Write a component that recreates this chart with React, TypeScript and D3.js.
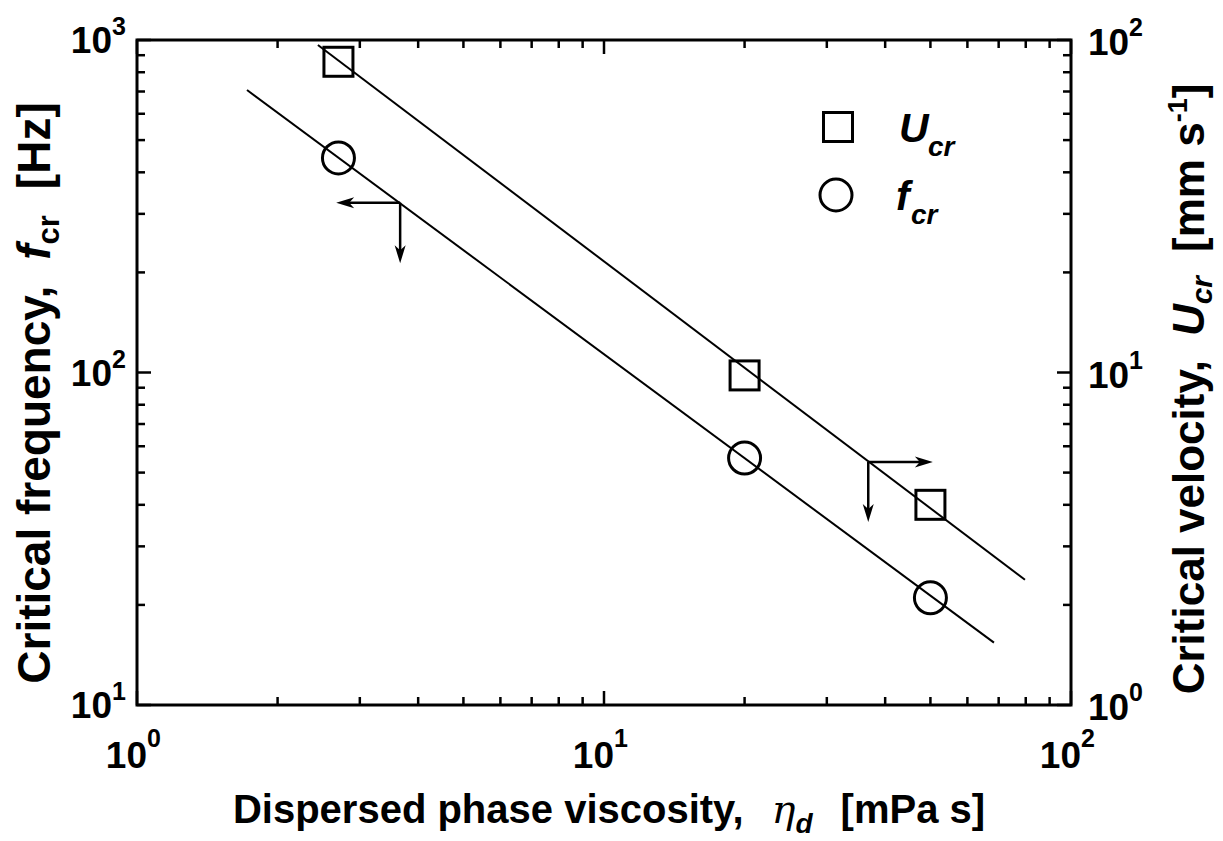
import React from "react";
import * as d3 from "d3";

// Dispersed phase viscosity [mPa s]
const viscosity = [2.7, 20, 50];
// Critical frequency f_cr [Hz] (left axis)
const freqCr = [442, 55.3, 21.0];
// Critical velocity U_cr [mm/s] (right axis)
const velCr = [86, 9.8, 4.0];

// Power-law fit lines, given by their end points (x, y)
const fitVelEnds = [
  [2.44, 96.6],
  [79.7, 2.38],
];
const fitFreqEnds = [
  [1.72, 707],
  [68.4, 15.4],
];

// Arrow annotations pointing each series to its axis: corner, horizontal tip, vertical tip
const freqArrow = { corner: [3.66, 324], hTip: 2.67, vTip: 213 };
const velArrow = { corner: [36.8, 5.38], hTip: 50.6, vTip: 3.55 };

const xDecades = [1, 10, 100];
const yLeftDecades = [10, 100, 1000];
const yRightDecades = [1, 10, 100];

const W = 1223;
const H = 841;
const L = 137, R = 1071, T = 40, B = 705;

const FONT = "'Liberation Sans', Arial, Helvetica, sans-serif";

function minorTicks(domain: [number, number]) {
  const out: number[] = [];
  for (let d = domain[0]; d < domain[1]; d *= 10) {
    for (let k = 2; k <= 9; k++) out.push(d * k);
  }
  return out;
}

function Arrow({ x1, y1, x2, y2 }: { x1: number; y1: number; x2: number; y2: number }) {
  const len = Math.hypot(x2 - x1, y2 - y1);
  const ux = (x2 - x1) / len, uy = (y2 - y1) / len;
  const hl = 18, hw = 5.5;
  const bx = x2 - ux * hl, by = y2 - uy * hl;
  const px = -uy, py = ux;
  const head = `M${x2},${y2} L${bx + px * hw},${by + py * hw} L${bx + ux * 5},${by + uy * 5} L${bx - px * hw},${by - py * hw} Z`;
  return (
    <g>
      <line x1={x1} y1={y1} x2={bx + ux * 6} y2={by + uy * 6} stroke="#000" strokeWidth={2.5} />
      <path d={head} fill="#000" />
    </g>
  );
}

export default function App() {
  const x = d3.scaleLog().domain([1, 100]).range([L, R]);
  const yL = d3.scaleLog().domain([10, 1000]).range([B, T]);
  const yR = d3.scaleLog().domain([1, 100]).range([B, T]);

  const line = d3.line<number[]>();
  const velFit = line(fitVelEnds.map((p) => [x(p[0]), yR(p[1])]));
  const freqFit = line(fitFreqEnds.map((p) => [x(p[0]), yL(p[1])]));

  const majorLen = 14, minorLen = 8;
  const xMinor = minorTicks([1, 100]);
  const yLMinor = minorTicks([10, 1000]);
  const yRMinor = minorTicks([1, 100]);

  const fa = freqArrow, va = velArrow;

  return (
    <svg width={W} height={H} style={{ display: "block", position: "absolute", left: 0, top: 0 }} fontFamily={FONT}>
      <rect width={W} height={H} fill="#fff" />

      {/* ticks: inward on all four sides */}
      <g stroke="#000" strokeWidth={2.5}>
        {xDecades.map((v) => (
          <g key={"xm" + v}>
            <line x1={x(v)} x2={x(v)} y1={B} y2={B - majorLen} />
            <line x1={x(v)} x2={x(v)} y1={T} y2={T + majorLen} />
          </g>
        ))}
        {xMinor.map((v) => (
          <g key={"xn" + v}>
            <line x1={x(v)} x2={x(v)} y1={B} y2={B - minorLen} />
            <line x1={x(v)} x2={x(v)} y1={T} y2={T + minorLen} />
          </g>
        ))}
        {yLeftDecades.map((v) => (
          <line key={"ylm" + v} x1={L} x2={L + majorLen} y1={yL(v)} y2={yL(v)} />
        ))}
        {yLMinor.map((v) => (
          <line key={"yln" + v} x1={L} x2={L + minorLen} y1={yL(v)} y2={yL(v)} />
        ))}
        {yRightDecades.map((v) => (
          <line key={"yrm" + v} x1={R} x2={R - majorLen} y1={yR(v)} y2={yR(v)} />
        ))}
        {yRMinor.map((v) => (
          <line key={"yrn" + v} x1={R} x2={R - minorLen} y1={yR(v)} y2={yR(v)} />
        ))}
      </g>
      <rect x={L} y={T} width={R - L} height={B - T} fill="none" stroke="#000" strokeWidth={3} />

      {/* tick labels */}
      <g fontWeight="bold" fill="#000">
        {xDecades.map((v) => (
          <g key={"xl" + v}>
            <text x={x(v) + 10} y={B + 63} fontSize={37} textAnchor="end">10</text>
            <text x={x(v) + 10} y={B + 42} fontSize={25}>{Math.round(Math.log10(v))}</text>
          </g>
        ))}
        {yLeftDecades.map((v) => (
          <g key={"yll" + v}>
            <text x={L - 25} y={yL(v) + 13} fontSize={37} textAnchor="end">10</text>
            <text x={L - 25} y={yL(v) - 5} fontSize={25}>{Math.round(Math.log10(v))}</text>
          </g>
        ))}
        {yRightDecades.map((v) => (
          <g key={"yrl" + v}>
            <text x={R + 17} y={yR(v) + 15} fontSize={37}>10</text>
            <text x={R + 58} y={yR(v) - 4} fontSize={25}>{Math.round(Math.log10(v))}</text>
          </g>
        ))}
      </g>

      {/* fit lines */}
      <path d={velFit ?? ""} fill="none" stroke="#000" strokeWidth={2} />
      <path d={freqFit ?? ""} fill="none" stroke="#000" strokeWidth={2} />

      {/* data markers */}
      {viscosity.map((v, i) => (
        <rect key={"sq" + i} x={x(v) - 14.5} y={yR(velCr[i]) - 14.5} width={29} height={29} fill="none" stroke="#000" strokeWidth={3} />
      ))}
      {viscosity.map((v, i) => (
        <circle key={"ci" + i} cx={x(v)} cy={yL(freqCr[i])} r={16} fill="none" stroke="#000" strokeWidth={3} />
      ))}

      {/* axis arrows */}
      <Arrow x1={x(fa.corner[0])} y1={yL(fa.corner[1])} x2={x(fa.hTip)} y2={yL(fa.corner[1])} />
      <Arrow x1={x(fa.corner[0])} y1={yL(fa.corner[1])} x2={x(fa.corner[0])} y2={yL(fa.vTip)} />
      <Arrow x1={x(va.corner[0])} y1={yR(va.corner[1])} x2={x(va.hTip)} y2={yR(va.corner[1])} />
      <Arrow x1={x(va.corner[0])} y1={yR(va.corner[1])} x2={x(va.corner[0])} y2={yR(va.vTip)} />

      {/* legend */}
      <rect x={823.5} y={112.5} width={29} height={29} fill="none" stroke="#000" strokeWidth={3} />
      <circle cx={836} cy={195} r={16} fill="none" stroke="#000" strokeWidth={3} />
      <text x={899} y={142} fontSize={41} fontWeight="bold" fontStyle="italic">U</text>
      <text x={928} y={156} fontSize={28} fontWeight="bold" fontStyle="italic">cr</text>
      <text x={896} y={210} fontSize={41} fontWeight="bold" fontStyle="italic">f</text>
      <text x={911} y={224} fontSize={28} fontWeight="bold" fontStyle="italic">cr</text>

      {/* x axis title */}
      <text x={609} y={823} fontSize={40} fontWeight="bold" textAnchor="middle">
        <tspan>Dispersed phase viscosity,</tspan>
        <tspan dx={28} fontWeight="normal" fontStyle="italic" fontFamily="'DejaVu Serif', serif">η</tspan>
        <tspan dy={10} fontSize={28} fontStyle="italic">d</tspan>
        <tspan dy={-10} dx={28}>[mPa s]</tspan>
      </text>

      {/* left y axis title */}
      <text transform={`translate(50, 393) rotate(-90)`} fontSize={46} fontWeight="bold" textAnchor="middle">
        <tspan>Critical frequency,</tspan>
        <tspan dx={26} fontStyle="italic">f</tspan>
        <tspan dy={9} fontSize={31}>cr</tspan>
        <tspan dy={-9} dx={26}>[Hz]</tspan>
      </text>

      {/* right y axis title */}
      <text transform={`translate(1204, 389) rotate(-90)`} fontSize={44} fontWeight="bold" textAnchor="middle">
        <tspan>Critical velocity,</tspan>
        <tspan dx={24} fontStyle="italic">U</tspan>
        <tspan dy={8} fontSize={30} fontStyle="italic">cr</tspan>
        <tspan dy={-8} dx={24}>[mm s</tspan>
        <tspan dy={-17} fontSize={27}>-1</tspan>
        <tspan dy={17}>]</tspan>
      </text>
    </svg>
  );
}
